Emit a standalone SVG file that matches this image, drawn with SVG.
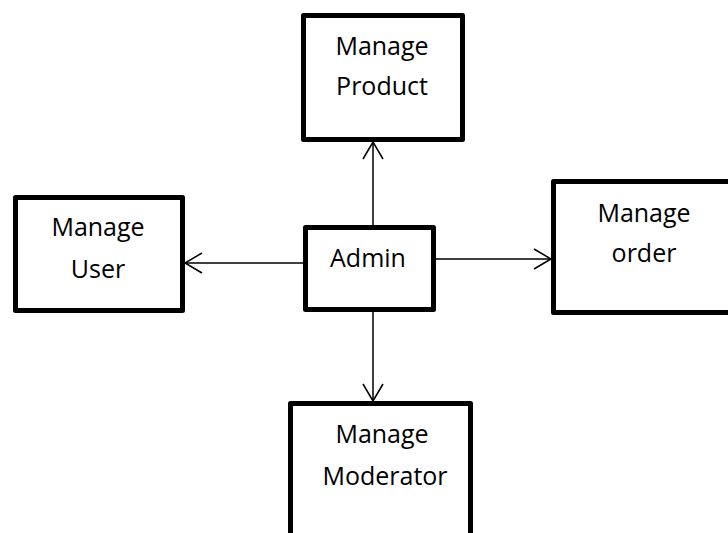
<svg xmlns="http://www.w3.org/2000/svg" width="728" height="533" viewBox="0 0 728 533">
  <style>
    .box { fill: #ffffff; stroke: #000000; stroke-width: 5; stroke-linejoin: round; }
    .lbl { font-family: "Open Sans", "Noto Sans", "Liberation Sans", sans-serif; font-size: 25px; fill: #000000; text-anchor: middle; }
    .conn { stroke: #000000; stroke-width: 1.5; fill: none; marker-end: url(#arrow); }
  </style>
  <defs>
    <marker id="arrow" markerUnits="userSpaceOnUse" markerWidth="40" markerHeight="40" viewBox="-20 -20 40 40" refX="0" refY="0" orient="auto">
      <path d="M-17,-10 L0,0 L-17,10" fill="none" stroke="#000000" stroke-width="1.5"/>
    </marker>
  </defs>
  <rect width="728" height="533" fill="#ffffff"/>
  <g id="connectors">
    <line class="conn" x1="373" y1="225" x2="373" y2="142"/>
    <line class="conn" x1="373" y1="312" x2="373" y2="401"/>
    <line class="conn" x1="303" y1="263" x2="185" y2="263"/>
    <line class="conn" x1="436" y1="259" x2="551" y2="259"/>
  </g>
  <g id="manage-product">
    <rect class="box" x="303.5" y="15.5" width="159" height="124"/>
    <text class="lbl" x="382" y="55">Manage</text>
    <text class="lbl" x="382" y="95">Product</text>
  </g>
  <g id="manage-user">
    <rect class="box" x="15.5" y="197.5" width="167" height="113"/>
    <text class="lbl" x="98" y="236">Manage</text>
    <text class="lbl" x="98" y="278">User</text>
  </g>
  <g id="admin">
    <rect class="box" x="305.5" y="227.5" width="128" height="82"/>
    <text class="lbl" x="368" y="267">Admin</text>
  </g>
  <g id="manage-order">
    <rect class="box" x="553.5" y="181.5" width="200" height="131"/>
    <text class="lbl" x="644" y="222">Manage</text>
    <text class="lbl" x="644" y="262">order</text>
  </g>
  <g id="manage-moderator">
    <rect class="box" x="290.5" y="403.5" width="180" height="200"/>
    <text class="lbl" x="382" y="443">Manage</text>
    <text class="lbl" x="385" y="485">Moderator</text>
  </g>
</svg>
